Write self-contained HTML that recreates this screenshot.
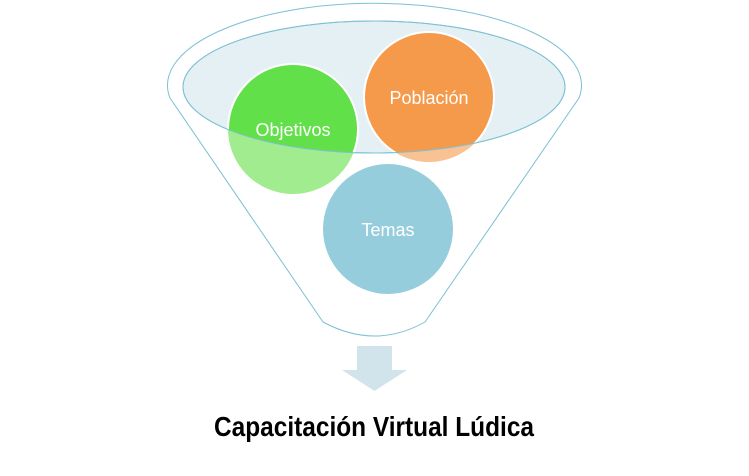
<!DOCTYPE html>
<html><head><meta charset="utf-8"><style>html,body{margin:0;padding:0;background:#fff;}svg{display:block}</style></head>
<body>
<svg width="749" height="476" viewBox="0 0 749 476" xmlns="http://www.w3.org/2000/svg">
<defs>
<clipPath id="ell"><ellipse cx="374" cy="87" rx="191" ry="66"/></clipPath>
</defs>
<!-- funnel outline -->
<path d="M170,98 A207,82 0 1 1 579,98 L425,322 Q375,350 323,322 Z" fill="#fff" stroke="#7cc0d4" stroke-width="1"/>
<ellipse cx="374" cy="87" rx="191" ry="66" fill="#e4f0f4" stroke="#7cc0d4" stroke-width="1"/>
<!-- lower light circles -->
<circle cx="293" cy="129" r="65" fill="#a1ec8f"/>
<circle cx="429" cy="97" r="65" fill="#f8c293"/>
<g clip-path="url(#ell)">
<circle cx="293" cy="129" r="65" fill="#62e04a" stroke="#fff" stroke-width="2"/>
<circle cx="429" cy="97" r="65" fill="#f59a4a" stroke="#fff" stroke-width="2"/>
</g>
<ellipse cx="374" cy="87" rx="191" ry="66" fill="none" stroke="#7cc0d4" stroke-width="1"/>
<circle cx="388" cy="229" r="65" fill="#96cddd"/>
<g font-family="Liberation Sans, sans-serif" fill="#fff" font-size="18" text-anchor="middle">
<text x="293" y="136">Objetivos</text>
<text x="429" y="104">Población</text>
<text x="388" y="236">Temas</text>
</g>
<!-- arrow -->
<path d="M357,346 H392 V370 H407 L374.5,391 L342,370 H357 Z" fill="#d2e4eb"/>
<text x="214" y="436" font-family="Liberation Sans, sans-serif" font-weight="bold" font-size="28" textLength="320" lengthAdjust="spacingAndGlyphs" fill="#000">Capacitación Virtual Lúdica</text>
</svg>
</body></html>
